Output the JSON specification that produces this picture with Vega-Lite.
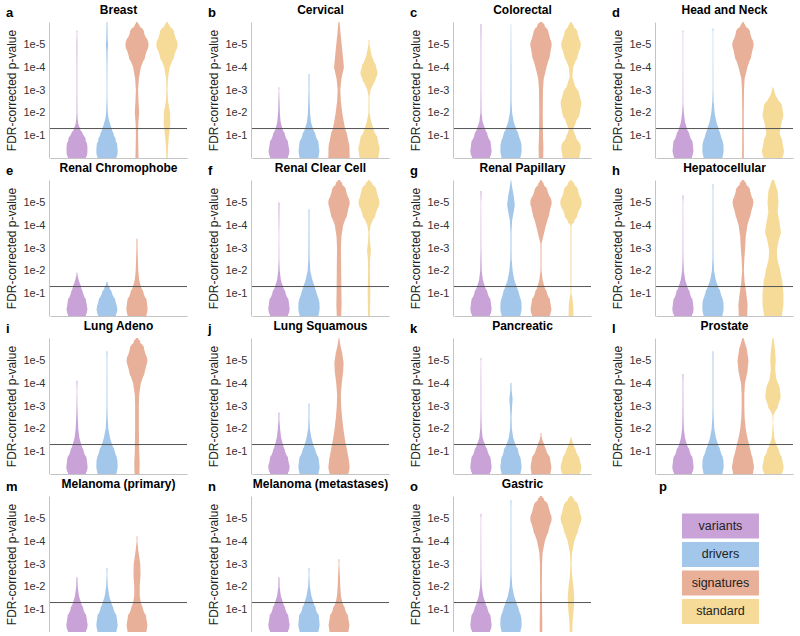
{
"$schema": "https://vega.github.io/schema/vega-lite/v6.json",
"padding": {"left": 5, "top": 4, "right": 0, "bottom": 0},
"columns": 4,
"spacing": {"row": 4, "column": 19},
"data": {"values": [
{"cancer":"Breast","set":"variants","y":0,"dens":0.8},{"cancer":"Breast","set":"variants","y":0.25,"dens":0.95},{"cancer":"Breast","set":"variants","y":0.5,"dens":0.95},{"cancer":"Breast","set":"variants","y":0.75,"dens":0.8},{"cancer":"Breast","set":"variants","y":1,"dens":0.55},{"cancer":"Breast","set":"variants","y":1.25,"dens":0.3},{"cancer":"Breast","set":"variants","y":1.5,"dens":0.12},{"cancer":"Breast","set":"variants","y":1.75,"dens":0.06},{"cancer":"Breast","set":"variants","y":2,"dens":0.04},{"cancer":"Breast","set":"variants","y":3,"dens":0.03},{"cancer":"Breast","set":"variants","y":4,"dens":0.03},{"cancer":"Breast","set":"variants","y":5,"dens":0.04},{"cancer":"Breast","set":"variants","y":5.5,"dens":0.02},{"cancer":"Breast","set":"variants","y":5.6,"dens":0},
{"cancer":"Breast","set":"drivers","y":0,"dens":0.85},{"cancer":"Breast","set":"drivers","y":0.25,"dens":0.97},{"cancer":"Breast","set":"drivers","y":0.5,"dens":0.95},{"cancer":"Breast","set":"drivers","y":0.75,"dens":0.8},{"cancer":"Breast","set":"drivers","y":1,"dens":0.62},{"cancer":"Breast","set":"drivers","y":1.25,"dens":0.45},{"cancer":"Breast","set":"drivers","y":1.5,"dens":0.28},{"cancer":"Breast","set":"drivers","y":1.75,"dens":0.14},{"cancer":"Breast","set":"drivers","y":2,"dens":0.08},{"cancer":"Breast","set":"drivers","y":2.5,"dens":0.04},{"cancer":"Breast","set":"drivers","y":3,"dens":0.03},{"cancer":"Breast","set":"drivers","y":4,"dens":0.04},{"cancer":"Breast","set":"drivers","y":4.7,"dens":0.06},{"cancer":"Breast","set":"drivers","y":5,"dens":0.1},{"cancer":"Breast","set":"drivers","y":5.3,"dens":0.06},{"cancer":"Breast","set":"drivers","y":6,"dens":0.04},
{"cancer":"Breast","set":"signatures","y":0,"dens":0.14},{"cancer":"Breast","set":"signatures","y":0.5,"dens":0.12},{"cancer":"Breast","set":"signatures","y":1,"dens":0.1},{"cancer":"Breast","set":"signatures","y":1.5,"dens":0.12},{"cancer":"Breast","set":"signatures","y":2,"dens":0.2},{"cancer":"Breast","set":"signatures","y":2.5,"dens":0.14},{"cancer":"Breast","set":"signatures","y":3,"dens":0.1},{"cancer":"Breast","set":"signatures","y":3.5,"dens":0.17},{"cancer":"Breast","set":"signatures","y":4,"dens":0.35},{"cancer":"Breast","set":"signatures","y":4.5,"dens":0.75},{"cancer":"Breast","set":"signatures","y":5,"dens":1.05},{"cancer":"Breast","set":"signatures","y":5.5,"dens":0.65},{"cancer":"Breast","set":"signatures","y":5.8,"dens":0.25},{"cancer":"Breast","set":"signatures","y":6,"dens":0.05},
{"cancer":"Breast","set":"standard","y":0,"dens":0.06},{"cancer":"Breast","set":"standard","y":0.5,"dens":0.1},{"cancer":"Breast","set":"standard","y":1,"dens":0.18},{"cancer":"Breast","set":"standard","y":1.5,"dens":0.3},{"cancer":"Breast","set":"standard","y":2,"dens":0.28},{"cancer":"Breast","set":"standard","y":2.5,"dens":0.1},{"cancer":"Breast","set":"standard","y":3,"dens":0.05},{"cancer":"Breast","set":"standard","y":3.5,"dens":0.08},{"cancer":"Breast","set":"standard","y":4,"dens":0.25},{"cancer":"Breast","set":"standard","y":4.5,"dens":0.65},{"cancer":"Breast","set":"standard","y":5,"dens":0.97},{"cancer":"Breast","set":"standard","y":5.5,"dens":0.65},{"cancer":"Breast","set":"standard","y":5.8,"dens":0.25},{"cancer":"Breast","set":"standard","y":6,"dens":0.05},
{"cancer":"Cervical","set":"variants","y":0,"dens":0.8},{"cancer":"Cervical","set":"variants","y":0.3,"dens":0.95},{"cancer":"Cervical","set":"variants","y":0.6,"dens":0.85},{"cancer":"Cervical","set":"variants","y":1,"dens":0.55},{"cancer":"Cervical","set":"variants","y":1.3,"dens":0.3},{"cancer":"Cervical","set":"variants","y":1.6,"dens":0.15},{"cancer":"Cervical","set":"variants","y":2,"dens":0.08},{"cancer":"Cervical","set":"variants","y":2.5,"dens":0.05},{"cancer":"Cervical","set":"variants","y":3,"dens":0.02},{"cancer":"Cervical","set":"variants","y":3.1,"dens":0},
{"cancer":"Cervical","set":"drivers","y":0,"dens":0.85},{"cancer":"Cervical","set":"drivers","y":0.3,"dens":0.95},{"cancer":"Cervical","set":"drivers","y":0.6,"dens":0.88},{"cancer":"Cervical","set":"drivers","y":1,"dens":0.6},{"cancer":"Cervical","set":"drivers","y":1.3,"dens":0.35},{"cancer":"Cervical","set":"drivers","y":1.6,"dens":0.18},{"cancer":"Cervical","set":"drivers","y":2,"dens":0.1},{"cancer":"Cervical","set":"drivers","y":2.5,"dens":0.06},{"cancer":"Cervical","set":"drivers","y":3,"dens":0.04},{"cancer":"Cervical","set":"drivers","y":3.7,"dens":0},
{"cancer":"Cervical","set":"signatures","y":0,"dens":0.97},{"cancer":"Cervical","set":"signatures","y":0.5,"dens":0.95},{"cancer":"Cervical","set":"signatures","y":1,"dens":0.75},{"cancer":"Cervical","set":"signatures","y":1.3,"dens":0.55},{"cancer":"Cervical","set":"signatures","y":1.7,"dens":0.4},{"cancer":"Cervical","set":"signatures","y":2,"dens":0.3},{"cancer":"Cervical","set":"signatures","y":2.5,"dens":0.17},{"cancer":"Cervical","set":"signatures","y":3,"dens":0.12},{"cancer":"Cervical","set":"signatures","y":3.5,"dens":0.22},{"cancer":"Cervical","set":"signatures","y":4,"dens":0.45},{"cancer":"Cervical","set":"signatures","y":4.5,"dens":0.35},{"cancer":"Cervical","set":"signatures","y":5,"dens":0.25},{"cancer":"Cervical","set":"signatures","y":5.5,"dens":0.14},{"cancer":"Cervical","set":"signatures","y":6,"dens":0.05},
{"cancer":"Cervical","set":"standard","y":0,"dens":0.85},{"cancer":"Cervical","set":"standard","y":0.4,"dens":0.97},{"cancer":"Cervical","set":"standard","y":0.8,"dens":0.8},{"cancer":"Cervical","set":"standard","y":1.2,"dens":0.45},{"cancer":"Cervical","set":"standard","y":1.6,"dens":0.2},{"cancer":"Cervical","set":"standard","y":2,"dens":0.05},{"cancer":"Cervical","set":"standard","y":2.2,"dens":0},{"cancer":"Cervical","set":"standard","y":2.5,"dens":0},{"cancer":"Cervical","set":"standard","y":2.7,"dens":0.04},{"cancer":"Cervical","set":"standard","y":3,"dens":0.15},{"cancer":"Cervical","set":"standard","y":3.5,"dens":0.6},{"cancer":"Cervical","set":"standard","y":3.75,"dens":0.78},{"cancer":"Cervical","set":"standard","y":4,"dens":0.65},{"cancer":"Cervical","set":"standard","y":4.5,"dens":0.25},{"cancer":"Cervical","set":"standard","y":5,"dens":0.05},{"cancer":"Cervical","set":"standard","y":5.2,"dens":0},
{"cancer":"Colorectal","set":"variants","y":0,"dens":0.8},{"cancer":"Colorectal","set":"variants","y":0.3,"dens":0.97},{"cancer":"Colorectal","set":"variants","y":0.6,"dens":0.9},{"cancer":"Colorectal","set":"variants","y":1,"dens":0.6},{"cancer":"Colorectal","set":"variants","y":1.3,"dens":0.35},{"cancer":"Colorectal","set":"variants","y":1.6,"dens":0.15},{"cancer":"Colorectal","set":"variants","y":2,"dens":0.05},{"cancer":"Colorectal","set":"variants","y":3,"dens":0.03},{"cancer":"Colorectal","set":"variants","y":5,"dens":0.03},{"cancer":"Colorectal","set":"variants","y":5.9,"dens":0},
{"cancer":"Colorectal","set":"drivers","y":0,"dens":0.85},{"cancer":"Colorectal","set":"drivers","y":0.3,"dens":0.97},{"cancer":"Colorectal","set":"drivers","y":0.6,"dens":0.95},{"cancer":"Colorectal","set":"drivers","y":1,"dens":0.7},{"cancer":"Colorectal","set":"drivers","y":1.3,"dens":0.45},{"cancer":"Colorectal","set":"drivers","y":1.6,"dens":0.25},{"cancer":"Colorectal","set":"drivers","y":2,"dens":0.1},{"cancer":"Colorectal","set":"drivers","y":2.5,"dens":0.05},{"cancer":"Colorectal","set":"drivers","y":4,"dens":0.04},{"cancer":"Colorectal","set":"drivers","y":5.9,"dens":0.02},
{"cancer":"Colorectal","set":"signatures","y":0,"dens":0.2},{"cancer":"Colorectal","set":"signatures","y":0.5,"dens":0.22},{"cancer":"Colorectal","set":"signatures","y":1,"dens":0.18},{"cancer":"Colorectal","set":"signatures","y":2,"dens":0.16},{"cancer":"Colorectal","set":"signatures","y":3,"dens":0.18},{"cancer":"Colorectal","set":"signatures","y":3.5,"dens":0.25},{"cancer":"Colorectal","set":"signatures","y":4,"dens":0.5},{"cancer":"Colorectal","set":"signatures","y":4.5,"dens":0.8},{"cancer":"Colorectal","set":"signatures","y":5,"dens":0.97},{"cancer":"Colorectal","set":"signatures","y":5.5,"dens":0.7},{"cancer":"Colorectal","set":"signatures","y":5.8,"dens":0.35},{"cancer":"Colorectal","set":"signatures","y":6,"dens":0.1},
{"cancer":"Colorectal","set":"standard","y":0,"dens":0.75},{"cancer":"Colorectal","set":"standard","y":0.45,"dens":0.9},{"cancer":"Colorectal","set":"standard","y":0.9,"dens":0.45},{"cancer":"Colorectal","set":"standard","y":1.25,"dens":0.2},{"cancer":"Colorectal","set":"standard","y":1.6,"dens":0.45},{"cancer":"Colorectal","set":"standard","y":2,"dens":0.8},{"cancer":"Colorectal","set":"standard","y":2.4,"dens":0.95},{"cancer":"Colorectal","set":"standard","y":2.8,"dens":0.75},{"cancer":"Colorectal","set":"standard","y":3.2,"dens":0.35},{"cancer":"Colorectal","set":"standard","y":3.6,"dens":0.12},{"cancer":"Colorectal","set":"standard","y":4,"dens":0.2},{"cancer":"Colorectal","set":"standard","y":4.5,"dens":0.6},{"cancer":"Colorectal","set":"standard","y":5,"dens":0.9},{"cancer":"Colorectal","set":"standard","y":5.5,"dens":0.6},{"cancer":"Colorectal","set":"standard","y":5.8,"dens":0.25},{"cancer":"Colorectal","set":"standard","y":6,"dens":0.05},
{"cancer":"Head and Neck","set":"variants","y":0,"dens":0.8},{"cancer":"Head and Neck","set":"variants","y":0.3,"dens":0.95},{"cancer":"Head and Neck","set":"variants","y":0.6,"dens":0.9},{"cancer":"Head and Neck","set":"variants","y":1,"dens":0.6},{"cancer":"Head and Neck","set":"variants","y":1.3,"dens":0.35},{"cancer":"Head and Neck","set":"variants","y":1.6,"dens":0.18},{"cancer":"Head and Neck","set":"variants","y":2,"dens":0.08},{"cancer":"Head and Neck","set":"variants","y":2.4,"dens":0.03},{"cancer":"Head and Neck","set":"variants","y":4,"dens":0.02},{"cancer":"Head and Neck","set":"variants","y":5.5,"dens":0.02},{"cancer":"Head and Neck","set":"variants","y":5.6,"dens":0},
{"cancer":"Head and Neck","set":"drivers","y":0,"dens":0.85},{"cancer":"Head and Neck","set":"drivers","y":0.3,"dens":0.97},{"cancer":"Head and Neck","set":"drivers","y":0.6,"dens":0.95},{"cancer":"Head and Neck","set":"drivers","y":1,"dens":0.7},{"cancer":"Head and Neck","set":"drivers","y":1.3,"dens":0.5},{"cancer":"Head and Neck","set":"drivers","y":1.6,"dens":0.3},{"cancer":"Head and Neck","set":"drivers","y":2,"dens":0.15},{"cancer":"Head and Neck","set":"drivers","y":2.5,"dens":0.06},{"cancer":"Head and Neck","set":"drivers","y":3,"dens":0.03},{"cancer":"Head and Neck","set":"drivers","y":5.5,"dens":0.02},{"cancer":"Head and Neck","set":"drivers","y":5.7,"dens":0},
{"cancer":"Head and Neck","set":"signatures","y":0,"dens":0.08},{"cancer":"Head and Neck","set":"signatures","y":1,"dens":0.07},{"cancer":"Head and Neck","set":"signatures","y":2,"dens":0.07},{"cancer":"Head and Neck","set":"signatures","y":3,"dens":0.09},{"cancer":"Head and Neck","set":"signatures","y":3.5,"dens":0.15},{"cancer":"Head and Neck","set":"signatures","y":4,"dens":0.4},{"cancer":"Head and Neck","set":"signatures","y":4.5,"dens":0.75},{"cancer":"Head and Neck","set":"signatures","y":5,"dens":0.97},{"cancer":"Head and Neck","set":"signatures","y":5.5,"dens":0.65},{"cancer":"Head and Neck","set":"signatures","y":5.8,"dens":0.25},{"cancer":"Head and Neck","set":"signatures","y":6,"dens":0.05},
{"cancer":"Head and Neck","set":"standard","y":0,"dens":0.85},{"cancer":"Head and Neck","set":"standard","y":0.3,"dens":1},{"cancer":"Head and Neck","set":"standard","y":0.7,"dens":0.85},{"cancer":"Head and Neck","set":"standard","y":1.1,"dens":0.6},{"cancer":"Head and Neck","set":"standard","y":1.5,"dens":0.75},{"cancer":"Head and Neck","set":"standard","y":1.9,"dens":0.95},{"cancer":"Head and Neck","set":"standard","y":2.2,"dens":0.85},{"cancer":"Head and Neck","set":"standard","y":2.5,"dens":0.5},{"cancer":"Head and Neck","set":"standard","y":2.8,"dens":0.2},{"cancer":"Head and Neck","set":"standard","y":3.1,"dens":0},
{"cancer":"Renal Chromophobe","set":"variants","y":0,"dens":0.8},{"cancer":"Renal Chromophobe","set":"variants","y":0.3,"dens":0.95},{"cancer":"Renal Chromophobe","set":"variants","y":0.6,"dens":0.85},{"cancer":"Renal Chromophobe","set":"variants","y":1,"dens":0.55},{"cancer":"Renal Chromophobe","set":"variants","y":1.3,"dens":0.35},{"cancer":"Renal Chromophobe","set":"variants","y":1.6,"dens":0.15},{"cancer":"Renal Chromophobe","set":"variants","y":1.8,"dens":0.05},{"cancer":"Renal Chromophobe","set":"variants","y":1.9,"dens":0},
{"cancer":"Renal Chromophobe","set":"drivers","y":0,"dens":0.8},{"cancer":"Renal Chromophobe","set":"drivers","y":0.3,"dens":0.95},{"cancer":"Renal Chromophobe","set":"drivers","y":0.6,"dens":0.8},{"cancer":"Renal Chromophobe","set":"drivers","y":1,"dens":0.45},{"cancer":"Renal Chromophobe","set":"drivers","y":1.2,"dens":0.25},{"cancer":"Renal Chromophobe","set":"drivers","y":1.4,"dens":0.08},{"cancer":"Renal Chromophobe","set":"drivers","y":1.5,"dens":0},
{"cancer":"Renal Chromophobe","set":"signatures","y":0,"dens":0.85},{"cancer":"Renal Chromophobe","set":"signatures","y":0.3,"dens":0.97},{"cancer":"Renal Chromophobe","set":"signatures","y":0.6,"dens":0.9},{"cancer":"Renal Chromophobe","set":"signatures","y":1,"dens":0.6},{"cancer":"Renal Chromophobe","set":"signatures","y":1.3,"dens":0.35},{"cancer":"Renal Chromophobe","set":"signatures","y":1.6,"dens":0.2},{"cancer":"Renal Chromophobe","set":"signatures","y":2,"dens":0.12},{"cancer":"Renal Chromophobe","set":"signatures","y":2.5,"dens":0.08},{"cancer":"Renal Chromophobe","set":"signatures","y":3,"dens":0.05},{"cancer":"Renal Chromophobe","set":"signatures","y":3.4,"dens":0},
{"cancer":"Renal Clear Cell","set":"variants","y":0,"dens":0.8},{"cancer":"Renal Clear Cell","set":"variants","y":0.3,"dens":0.97},{"cancer":"Renal Clear Cell","set":"variants","y":0.6,"dens":0.9},{"cancer":"Renal Clear Cell","set":"variants","y":1,"dens":0.6},{"cancer":"Renal Clear Cell","set":"variants","y":1.3,"dens":0.35},{"cancer":"Renal Clear Cell","set":"variants","y":1.6,"dens":0.17},{"cancer":"Renal Clear Cell","set":"variants","y":2,"dens":0.07},{"cancer":"Renal Clear Cell","set":"variants","y":2.5,"dens":0.03},{"cancer":"Renal Clear Cell","set":"variants","y":3.5,"dens":0.02},{"cancer":"Renal Clear Cell","set":"variants","y":4,"dens":0.03},{"cancer":"Renal Clear Cell","set":"variants","y":5,"dens":0},
{"cancer":"Renal Clear Cell","set":"drivers","y":0,"dens":0.85},{"cancer":"Renal Clear Cell","set":"drivers","y":0.3,"dens":0.97},{"cancer":"Renal Clear Cell","set":"drivers","y":0.6,"dens":0.95},{"cancer":"Renal Clear Cell","set":"drivers","y":1,"dens":0.7},{"cancer":"Renal Clear Cell","set":"drivers","y":1.3,"dens":0.5},{"cancer":"Renal Clear Cell","set":"drivers","y":1.6,"dens":0.3},{"cancer":"Renal Clear Cell","set":"drivers","y":2,"dens":0.12},{"cancer":"Renal Clear Cell","set":"drivers","y":2.5,"dens":0.06},{"cancer":"Renal Clear Cell","set":"drivers","y":3,"dens":0.05},{"cancer":"Renal Clear Cell","set":"drivers","y":4,"dens":0.04},{"cancer":"Renal Clear Cell","set":"drivers","y":4.7,"dens":0},
{"cancer":"Renal Clear Cell","set":"signatures","y":0,"dens":0.2},{"cancer":"Renal Clear Cell","set":"signatures","y":0.5,"dens":0.24},{"cancer":"Renal Clear Cell","set":"signatures","y":1,"dens":0.22},{"cancer":"Renal Clear Cell","set":"signatures","y":2,"dens":0.2},{"cancer":"Renal Clear Cell","set":"signatures","y":3,"dens":0.18},{"cancer":"Renal Clear Cell","set":"signatures","y":3.5,"dens":0.22},{"cancer":"Renal Clear Cell","set":"signatures","y":4,"dens":0.38},{"cancer":"Renal Clear Cell","set":"signatures","y":4.5,"dens":0.75},{"cancer":"Renal Clear Cell","set":"signatures","y":5,"dens":0.97},{"cancer":"Renal Clear Cell","set":"signatures","y":5.5,"dens":0.65},{"cancer":"Renal Clear Cell","set":"signatures","y":5.8,"dens":0.3},{"cancer":"Renal Clear Cell","set":"signatures","y":6,"dens":0.08},
{"cancer":"Renal Clear Cell","set":"standard","y":0,"dens":0.08},{"cancer":"Renal Clear Cell","set":"standard","y":0.5,"dens":0.1},{"cancer":"Renal Clear Cell","set":"standard","y":1,"dens":0.12},{"cancer":"Renal Clear Cell","set":"standard","y":1.5,"dens":0.1},{"cancer":"Renal Clear Cell","set":"standard","y":2,"dens":0.08},{"cancer":"Renal Clear Cell","set":"standard","y":2.5,"dens":0.1},{"cancer":"Renal Clear Cell","set":"standard","y":2.9,"dens":0.18},{"cancer":"Renal Clear Cell","set":"standard","y":3.3,"dens":0.08},{"cancer":"Renal Clear Cell","set":"standard","y":3.7,"dens":0.05},{"cancer":"Renal Clear Cell","set":"standard","y":4,"dens":0.15},{"cancer":"Renal Clear Cell","set":"standard","y":4.5,"dens":0.6},{"cancer":"Renal Clear Cell","set":"standard","y":5,"dens":0.95},{"cancer":"Renal Clear Cell","set":"standard","y":5.5,"dens":0.7},{"cancer":"Renal Clear Cell","set":"standard","y":5.8,"dens":0.3},{"cancer":"Renal Clear Cell","set":"standard","y":6,"dens":0.05},
{"cancer":"Renal Papillary","set":"variants","y":0,"dens":0.8},{"cancer":"Renal Papillary","set":"variants","y":0.3,"dens":0.97},{"cancer":"Renal Papillary","set":"variants","y":0.6,"dens":0.9},{"cancer":"Renal Papillary","set":"variants","y":1,"dens":0.6},{"cancer":"Renal Papillary","set":"variants","y":1.3,"dens":0.35},{"cancer":"Renal Papillary","set":"variants","y":1.6,"dens":0.17},{"cancer":"Renal Papillary","set":"variants","y":2,"dens":0.07},{"cancer":"Renal Papillary","set":"variants","y":3,"dens":0.03},{"cancer":"Renal Papillary","set":"variants","y":5,"dens":0.02},{"cancer":"Renal Papillary","set":"variants","y":5.5,"dens":0},
{"cancer":"Renal Papillary","set":"drivers","y":0,"dens":0.85},{"cancer":"Renal Papillary","set":"drivers","y":0.3,"dens":0.97},{"cancer":"Renal Papillary","set":"drivers","y":0.6,"dens":0.95},{"cancer":"Renal Papillary","set":"drivers","y":1,"dens":0.72},{"cancer":"Renal Papillary","set":"drivers","y":1.3,"dens":0.5},{"cancer":"Renal Papillary","set":"drivers","y":1.6,"dens":0.3},{"cancer":"Renal Papillary","set":"drivers","y":2,"dens":0.15},{"cancer":"Renal Papillary","set":"drivers","y":2.5,"dens":0.06},{"cancer":"Renal Papillary","set":"drivers","y":2.9,"dens":0},{"cancer":"Renal Papillary","set":"drivers","y":3.7,"dens":0},{"cancer":"Renal Papillary","set":"drivers","y":4.2,"dens":0.1},{"cancer":"Renal Papillary","set":"drivers","y":4.6,"dens":0.25},{"cancer":"Renal Papillary","set":"drivers","y":4.9,"dens":0.35},{"cancer":"Renal Papillary","set":"drivers","y":5.3,"dens":0.25},{"cancer":"Renal Papillary","set":"drivers","y":5.7,"dens":0.1},{"cancer":"Renal Papillary","set":"drivers","y":6,"dens":0.02},
{"cancer":"Renal Papillary","set":"signatures","y":0,"dens":0.8},{"cancer":"Renal Papillary","set":"signatures","y":0.3,"dens":0.95},{"cancer":"Renal Papillary","set":"signatures","y":0.6,"dens":0.85},{"cancer":"Renal Papillary","set":"signatures","y":1,"dens":0.55},{"cancer":"Renal Papillary","set":"signatures","y":1.3,"dens":0.3},{"cancer":"Renal Papillary","set":"signatures","y":1.6,"dens":0.15},{"cancer":"Renal Papillary","set":"signatures","y":2,"dens":0.05},{"cancer":"Renal Papillary","set":"signatures","y":2.2,"dens":0},{"cancer":"Renal Papillary","set":"signatures","y":3,"dens":0},{"cancer":"Renal Papillary","set":"signatures","y":3.2,"dens":0.05},{"cancer":"Renal Papillary","set":"signatures","y":3.5,"dens":0.2},{"cancer":"Renal Papillary","set":"signatures","y":4,"dens":0.45},{"cancer":"Renal Papillary","set":"signatures","y":4.5,"dens":0.75},{"cancer":"Renal Papillary","set":"signatures","y":5,"dens":0.97},{"cancer":"Renal Papillary","set":"signatures","y":5.5,"dens":0.6},{"cancer":"Renal Papillary","set":"signatures","y":5.8,"dens":0.25},{"cancer":"Renal Papillary","set":"signatures","y":6,"dens":0.05},
{"cancer":"Renal Papillary","set":"standard","y":0,"dens":0.22},{"cancer":"Renal Papillary","set":"standard","y":0.5,"dens":0.2},{"cancer":"Renal Papillary","set":"standard","y":0.8,"dens":0.12},{"cancer":"Renal Papillary","set":"standard","y":1,"dens":0.04},{"cancer":"Renal Papillary","set":"standard","y":1.1,"dens":0},{"cancer":"Renal Papillary","set":"standard","y":3.8,"dens":0},{"cancer":"Renal Papillary","set":"standard","y":4,"dens":0.05},{"cancer":"Renal Papillary","set":"standard","y":4.2,"dens":0.3},{"cancer":"Renal Papillary","set":"standard","y":4.5,"dens":0.6},{"cancer":"Renal Papillary","set":"standard","y":5,"dens":0.97},{"cancer":"Renal Papillary","set":"standard","y":5.5,"dens":0.65},{"cancer":"Renal Papillary","set":"standard","y":5.8,"dens":0.3},{"cancer":"Renal Papillary","set":"standard","y":6,"dens":0.05},
{"cancer":"Hepatocellular","set":"variants","y":0,"dens":0.8},{"cancer":"Hepatocellular","set":"variants","y":0.3,"dens":0.97},{"cancer":"Hepatocellular","set":"variants","y":0.6,"dens":0.9},{"cancer":"Hepatocellular","set":"variants","y":1,"dens":0.62},{"cancer":"Hepatocellular","set":"variants","y":1.3,"dens":0.38},{"cancer":"Hepatocellular","set":"variants","y":1.6,"dens":0.2},{"cancer":"Hepatocellular","set":"variants","y":2,"dens":0.08},{"cancer":"Hepatocellular","set":"variants","y":2.5,"dens":0.04},{"cancer":"Hepatocellular","set":"variants","y":3,"dens":0.03},{"cancer":"Hepatocellular","set":"variants","y":5,"dens":0.02},{"cancer":"Hepatocellular","set":"variants","y":5.3,"dens":0},
{"cancer":"Hepatocellular","set":"drivers","y":0,"dens":0.85},{"cancer":"Hepatocellular","set":"drivers","y":0.3,"dens":0.97},{"cancer":"Hepatocellular","set":"drivers","y":0.6,"dens":0.95},{"cancer":"Hepatocellular","set":"drivers","y":1,"dens":0.7},{"cancer":"Hepatocellular","set":"drivers","y":1.3,"dens":0.45},{"cancer":"Hepatocellular","set":"drivers","y":1.6,"dens":0.25},{"cancer":"Hepatocellular","set":"drivers","y":2,"dens":0.1},{"cancer":"Hepatocellular","set":"drivers","y":2.5,"dens":0.05},{"cancer":"Hepatocellular","set":"drivers","y":3,"dens":0.04},{"cancer":"Hepatocellular","set":"drivers","y":5.5,"dens":0.03},{"cancer":"Hepatocellular","set":"drivers","y":5.8,"dens":0},
{"cancer":"Hepatocellular","set":"signatures","y":0,"dens":0.38},{"cancer":"Hepatocellular","set":"signatures","y":0.5,"dens":0.42},{"cancer":"Hepatocellular","set":"signatures","y":1,"dens":0.3},{"cancer":"Hepatocellular","set":"signatures","y":1.5,"dens":0.15},{"cancer":"Hepatocellular","set":"signatures","y":2,"dens":0.08},{"cancer":"Hepatocellular","set":"signatures","y":2.5,"dens":0.12},{"cancer":"Hepatocellular","set":"signatures","y":3,"dens":0.2},{"cancer":"Hepatocellular","set":"signatures","y":3.5,"dens":0.25},{"cancer":"Hepatocellular","set":"signatures","y":4,"dens":0.4},{"cancer":"Hepatocellular","set":"signatures","y":4.5,"dens":0.7},{"cancer":"Hepatocellular","set":"signatures","y":5,"dens":0.95},{"cancer":"Hepatocellular","set":"signatures","y":5.5,"dens":0.65},{"cancer":"Hepatocellular","set":"signatures","y":5.8,"dens":0.3},{"cancer":"Hepatocellular","set":"signatures","y":6,"dens":0.08},
{"cancer":"Hepatocellular","set":"standard","y":0,"dens":0.8},{"cancer":"Hepatocellular","set":"standard","y":0.5,"dens":0.95},{"cancer":"Hepatocellular","set":"standard","y":1,"dens":0.95},{"cancer":"Hepatocellular","set":"standard","y":1.5,"dens":0.85},{"cancer":"Hepatocellular","set":"standard","y":2,"dens":0.65},{"cancer":"Hepatocellular","set":"standard","y":2.5,"dens":0.4},{"cancer":"Hepatocellular","set":"standard","y":2.9,"dens":0.35},{"cancer":"Hepatocellular","set":"standard","y":3.3,"dens":0.5},{"cancer":"Hepatocellular","set":"standard","y":3.7,"dens":0.72},{"cancer":"Hepatocellular","set":"standard","y":4.1,"dens":0.6},{"cancer":"Hepatocellular","set":"standard","y":4.6,"dens":0.42},{"cancer":"Hepatocellular","set":"standard","y":5,"dens":0.5},{"cancer":"Hepatocellular","set":"standard","y":5.5,"dens":0.42},{"cancer":"Hepatocellular","set":"standard","y":6,"dens":0.1},
{"cancer":"Lung Adeno","set":"variants","y":0,"dens":0.8},{"cancer":"Lung Adeno","set":"variants","y":0.3,"dens":0.97},{"cancer":"Lung Adeno","set":"variants","y":0.6,"dens":0.9},{"cancer":"Lung Adeno","set":"variants","y":1,"dens":0.6},{"cancer":"Lung Adeno","set":"variants","y":1.3,"dens":0.38},{"cancer":"Lung Adeno","set":"variants","y":1.6,"dens":0.22},{"cancer":"Lung Adeno","set":"variants","y":2,"dens":0.12},{"cancer":"Lung Adeno","set":"variants","y":2.5,"dens":0.07},{"cancer":"Lung Adeno","set":"variants","y":3,"dens":0.04},{"cancer":"Lung Adeno","set":"variants","y":3.7,"dens":0.02},{"cancer":"Lung Adeno","set":"variants","y":4.1,"dens":0},
{"cancer":"Lung Adeno","set":"drivers","y":0,"dens":0.85},{"cancer":"Lung Adeno","set":"drivers","y":0.3,"dens":0.97},{"cancer":"Lung Adeno","set":"drivers","y":0.6,"dens":0.95},{"cancer":"Lung Adeno","set":"drivers","y":1,"dens":0.7},{"cancer":"Lung Adeno","set":"drivers","y":1.3,"dens":0.45},{"cancer":"Lung Adeno","set":"drivers","y":1.6,"dens":0.28},{"cancer":"Lung Adeno","set":"drivers","y":2,"dens":0.12},{"cancer":"Lung Adeno","set":"drivers","y":2.5,"dens":0.06},{"cancer":"Lung Adeno","set":"drivers","y":3,"dens":0.04},{"cancer":"Lung Adeno","set":"drivers","y":5,"dens":0.03},{"cancer":"Lung Adeno","set":"drivers","y":5.4,"dens":0},
{"cancer":"Lung Adeno","set":"signatures","y":0,"dens":0.22},{"cancer":"Lung Adeno","set":"signatures","y":0.5,"dens":0.25},{"cancer":"Lung Adeno","set":"signatures","y":1,"dens":0.2},{"cancer":"Lung Adeno","set":"signatures","y":2,"dens":0.17},{"cancer":"Lung Adeno","set":"signatures","y":3,"dens":0.17},{"cancer":"Lung Adeno","set":"signatures","y":3.5,"dens":0.2},{"cancer":"Lung Adeno","set":"signatures","y":4,"dens":0.35},{"cancer":"Lung Adeno","set":"signatures","y":4.5,"dens":0.7},{"cancer":"Lung Adeno","set":"signatures","y":5,"dens":0.95},{"cancer":"Lung Adeno","set":"signatures","y":5.5,"dens":0.65},{"cancer":"Lung Adeno","set":"signatures","y":5.8,"dens":0.3},{"cancer":"Lung Adeno","set":"signatures","y":6,"dens":0.08},
{"cancer":"Lung Squamous","set":"variants","y":0,"dens":0.8},{"cancer":"Lung Squamous","set":"variants","y":0.3,"dens":0.97},{"cancer":"Lung Squamous","set":"variants","y":0.6,"dens":0.85},{"cancer":"Lung Squamous","set":"variants","y":1,"dens":0.55},{"cancer":"Lung Squamous","set":"variants","y":1.3,"dens":0.35},{"cancer":"Lung Squamous","set":"variants","y":1.6,"dens":0.2},{"cancer":"Lung Squamous","set":"variants","y":2,"dens":0.1},{"cancer":"Lung Squamous","set":"variants","y":2.4,"dens":0.04},{"cancer":"Lung Squamous","set":"variants","y":2.7,"dens":0},
{"cancer":"Lung Squamous","set":"drivers","y":0,"dens":0.85},{"cancer":"Lung Squamous","set":"drivers","y":0.3,"dens":0.97},{"cancer":"Lung Squamous","set":"drivers","y":0.6,"dens":0.9},{"cancer":"Lung Squamous","set":"drivers","y":1,"dens":0.6},{"cancer":"Lung Squamous","set":"drivers","y":1.3,"dens":0.38},{"cancer":"Lung Squamous","set":"drivers","y":1.6,"dens":0.22},{"cancer":"Lung Squamous","set":"drivers","y":2,"dens":0.08},{"cancer":"Lung Squamous","set":"drivers","y":2.5,"dens":0.04},{"cancer":"Lung Squamous","set":"drivers","y":3.1,"dens":0},
{"cancer":"Lung Squamous","set":"signatures","y":0,"dens":0.85},{"cancer":"Lung Squamous","set":"signatures","y":0.3,"dens":0.97},{"cancer":"Lung Squamous","set":"signatures","y":0.6,"dens":0.9},{"cancer":"Lung Squamous","set":"signatures","y":1,"dens":0.75},{"cancer":"Lung Squamous","set":"signatures","y":1.5,"dens":0.55},{"cancer":"Lung Squamous","set":"signatures","y":2,"dens":0.4},{"cancer":"Lung Squamous","set":"signatures","y":2.5,"dens":0.28},{"cancer":"Lung Squamous","set":"signatures","y":3,"dens":0.2},{"cancer":"Lung Squamous","set":"signatures","y":3.5,"dens":0.17},{"cancer":"Lung Squamous","set":"signatures","y":4,"dens":0.25},{"cancer":"Lung Squamous","set":"signatures","y":4.5,"dens":0.38},{"cancer":"Lung Squamous","set":"signatures","y":4.9,"dens":0.42},{"cancer":"Lung Squamous","set":"signatures","y":5.3,"dens":0.3},{"cancer":"Lung Squamous","set":"signatures","y":5.7,"dens":0.12},{"cancer":"Lung Squamous","set":"signatures","y":6,"dens":0.03},
{"cancer":"Pancreatic","set":"variants","y":0,"dens":0.8},{"cancer":"Pancreatic","set":"variants","y":0.3,"dens":0.97},{"cancer":"Pancreatic","set":"variants","y":0.6,"dens":0.9},{"cancer":"Pancreatic","set":"variants","y":1,"dens":0.6},{"cancer":"Pancreatic","set":"variants","y":1.3,"dens":0.35},{"cancer":"Pancreatic","set":"variants","y":1.6,"dens":0.15},{"cancer":"Pancreatic","set":"variants","y":2,"dens":0.07},{"cancer":"Pancreatic","set":"variants","y":2.5,"dens":0.04},{"cancer":"Pancreatic","set":"variants","y":3,"dens":0.03},{"cancer":"Pancreatic","set":"variants","y":4,"dens":0.03},{"cancer":"Pancreatic","set":"variants","y":5,"dens":0.02},{"cancer":"Pancreatic","set":"variants","y":5.1,"dens":0},
{"cancer":"Pancreatic","set":"drivers","y":0,"dens":0.85},{"cancer":"Pancreatic","set":"drivers","y":0.3,"dens":0.97},{"cancer":"Pancreatic","set":"drivers","y":0.6,"dens":0.9},{"cancer":"Pancreatic","set":"drivers","y":1,"dens":0.65},{"cancer":"Pancreatic","set":"drivers","y":1.3,"dens":0.4},{"cancer":"Pancreatic","set":"drivers","y":1.6,"dens":0.2},{"cancer":"Pancreatic","set":"drivers","y":2,"dens":0.08},{"cancer":"Pancreatic","set":"drivers","y":2.5,"dens":0.05},{"cancer":"Pancreatic","set":"drivers","y":3,"dens":0.1},{"cancer":"Pancreatic","set":"drivers","y":3.3,"dens":0.15},{"cancer":"Pancreatic","set":"drivers","y":3.7,"dens":0.06},{"cancer":"Pancreatic","set":"drivers","y":4,"dens":0},
{"cancer":"Pancreatic","set":"signatures","y":0,"dens":0.85},{"cancer":"Pancreatic","set":"signatures","y":0.3,"dens":0.95},{"cancer":"Pancreatic","set":"signatures","y":0.6,"dens":0.85},{"cancer":"Pancreatic","set":"signatures","y":1,"dens":0.5},{"cancer":"Pancreatic","set":"signatures","y":1.3,"dens":0.28},{"cancer":"Pancreatic","set":"signatures","y":1.5,"dens":0.12},{"cancer":"Pancreatic","set":"signatures","y":1.7,"dens":0.04},{"cancer":"Pancreatic","set":"signatures","y":1.8,"dens":0},
{"cancer":"Pancreatic","set":"standard","y":0,"dens":0.8},{"cancer":"Pancreatic","set":"standard","y":0.3,"dens":0.95},{"cancer":"Pancreatic","set":"standard","y":0.6,"dens":0.8},{"cancer":"Pancreatic","set":"standard","y":1,"dens":0.45},{"cancer":"Pancreatic","set":"standard","y":1.3,"dens":0.22},{"cancer":"Pancreatic","set":"standard","y":1.5,"dens":0.08},{"cancer":"Pancreatic","set":"standard","y":1.6,"dens":0},
{"cancer":"Prostate","set":"variants","y":0,"dens":0.8},{"cancer":"Prostate","set":"variants","y":0.3,"dens":0.97},{"cancer":"Prostate","set":"variants","y":0.6,"dens":0.9},{"cancer":"Prostate","set":"variants","y":1,"dens":0.6},{"cancer":"Prostate","set":"variants","y":1.3,"dens":0.35},{"cancer":"Prostate","set":"variants","y":1.6,"dens":0.18},{"cancer":"Prostate","set":"variants","y":2,"dens":0.08},{"cancer":"Prostate","set":"variants","y":2.5,"dens":0.05},{"cancer":"Prostate","set":"variants","y":3,"dens":0.04},{"cancer":"Prostate","set":"variants","y":4,"dens":0.03},{"cancer":"Prostate","set":"variants","y":4.4,"dens":0},
{"cancer":"Prostate","set":"drivers","y":0,"dens":0.85},{"cancer":"Prostate","set":"drivers","y":0.3,"dens":0.97},{"cancer":"Prostate","set":"drivers","y":0.6,"dens":0.95},{"cancer":"Prostate","set":"drivers","y":1,"dens":0.68},{"cancer":"Prostate","set":"drivers","y":1.3,"dens":0.45},{"cancer":"Prostate","set":"drivers","y":1.6,"dens":0.27},{"cancer":"Prostate","set":"drivers","y":2,"dens":0.12},{"cancer":"Prostate","set":"drivers","y":2.5,"dens":0.06},{"cancer":"Prostate","set":"drivers","y":3,"dens":0.04},{"cancer":"Prostate","set":"drivers","y":5,"dens":0.04},{"cancer":"Prostate","set":"drivers","y":5.4,"dens":0},
{"cancer":"Prostate","set":"signatures","y":0,"dens":0.9},{"cancer":"Prostate","set":"signatures","y":0.3,"dens":1},{"cancer":"Prostate","set":"signatures","y":0.6,"dens":0.9},{"cancer":"Prostate","set":"signatures","y":1,"dens":0.7},{"cancer":"Prostate","set":"signatures","y":1.3,"dens":0.55},{"cancer":"Prostate","set":"signatures","y":1.6,"dens":0.4},{"cancer":"Prostate","set":"signatures","y":2,"dens":0.25},{"cancer":"Prostate","set":"signatures","y":2.5,"dens":0.15},{"cancer":"Prostate","set":"signatures","y":3,"dens":0.12},{"cancer":"Prostate","set":"signatures","y":3.5,"dens":0.12},{"cancer":"Prostate","set":"signatures","y":4,"dens":0.18},{"cancer":"Prostate","set":"signatures","y":4.5,"dens":0.4},{"cancer":"Prostate","set":"signatures","y":5,"dens":0.5},{"cancer":"Prostate","set":"signatures","y":5.5,"dens":0.35},{"cancer":"Prostate","set":"signatures","y":6,"dens":0.05},
{"cancer":"Prostate","set":"standard","y":0,"dens":0.8},{"cancer":"Prostate","set":"standard","y":0.3,"dens":0.97},{"cancer":"Prostate","set":"standard","y":0.6,"dens":0.85},{"cancer":"Prostate","set":"standard","y":1,"dens":0.55},{"cancer":"Prostate","set":"standard","y":1.3,"dens":0.3},{"cancer":"Prostate","set":"standard","y":1.6,"dens":0.12},{"cancer":"Prostate","set":"standard","y":2,"dens":0.05},{"cancer":"Prostate","set":"standard","y":2.3,"dens":0.02},{"cancer":"Prostate","set":"standard","y":2.6,"dens":0.05},{"cancer":"Prostate","set":"standard","y":3,"dens":0.45},{"cancer":"Prostate","set":"standard","y":3.4,"dens":0.7},{"cancer":"Prostate","set":"standard","y":3.8,"dens":0.6},{"cancer":"Prostate","set":"standard","y":4.2,"dens":0.3},{"cancer":"Prostate","set":"standard","y":4.6,"dens":0.2},{"cancer":"Prostate","set":"standard","y":5,"dens":0.25},{"cancer":"Prostate","set":"standard","y":5.5,"dens":0.18},{"cancer":"Prostate","set":"standard","y":6,"dens":0.05},
{"cancer":"Melanoma (primary)","set":"variants","y":0,"dens":0.8},{"cancer":"Melanoma (primary)","set":"variants","y":0.3,"dens":0.97},{"cancer":"Melanoma (primary)","set":"variants","y":0.6,"dens":0.88},{"cancer":"Melanoma (primary)","set":"variants","y":1,"dens":0.58},{"cancer":"Melanoma (primary)","set":"variants","y":1.3,"dens":0.35},{"cancer":"Melanoma (primary)","set":"variants","y":1.6,"dens":0.18},{"cancer":"Melanoma (primary)","set":"variants","y":2,"dens":0.07},{"cancer":"Melanoma (primary)","set":"variants","y":2.4,"dens":0},
{"cancer":"Melanoma (primary)","set":"drivers","y":0,"dens":0.85},{"cancer":"Melanoma (primary)","set":"drivers","y":0.3,"dens":0.97},{"cancer":"Melanoma (primary)","set":"drivers","y":0.6,"dens":0.9},{"cancer":"Melanoma (primary)","set":"drivers","y":1,"dens":0.6},{"cancer":"Melanoma (primary)","set":"drivers","y":1.3,"dens":0.38},{"cancer":"Melanoma (primary)","set":"drivers","y":1.6,"dens":0.2},{"cancer":"Melanoma (primary)","set":"drivers","y":2,"dens":0.08},{"cancer":"Melanoma (primary)","set":"drivers","y":2.5,"dens":0.03},{"cancer":"Melanoma (primary)","set":"drivers","y":2.8,"dens":0},
{"cancer":"Melanoma (primary)","set":"signatures","y":0,"dens":0.85},{"cancer":"Melanoma (primary)","set":"signatures","y":0.3,"dens":0.95},{"cancer":"Melanoma (primary)","set":"signatures","y":0.6,"dens":0.85},{"cancer":"Melanoma (primary)","set":"signatures","y":1,"dens":0.55},{"cancer":"Melanoma (primary)","set":"signatures","y":1.3,"dens":0.35},{"cancer":"Melanoma (primary)","set":"signatures","y":1.6,"dens":0.25},{"cancer":"Melanoma (primary)","set":"signatures","y":2,"dens":0.25},{"cancer":"Melanoma (primary)","set":"signatures","y":2.5,"dens":0.32},{"cancer":"Melanoma (primary)","set":"signatures","y":3,"dens":0.3},{"cancer":"Melanoma (primary)","set":"signatures","y":3.5,"dens":0.15},{"cancer":"Melanoma (primary)","set":"signatures","y":4,"dens":0.03},{"cancer":"Melanoma (primary)","set":"signatures","y":4.2,"dens":0},
{"cancer":"Melanoma (metastases)","set":"variants","y":0,"dens":0.8},{"cancer":"Melanoma (metastases)","set":"variants","y":0.3,"dens":0.97},{"cancer":"Melanoma (metastases)","set":"variants","y":0.6,"dens":0.88},{"cancer":"Melanoma (metastases)","set":"variants","y":1,"dens":0.58},{"cancer":"Melanoma (metastases)","set":"variants","y":1.3,"dens":0.35},{"cancer":"Melanoma (metastases)","set":"variants","y":1.6,"dens":0.17},{"cancer":"Melanoma (metastases)","set":"variants","y":2,"dens":0.06},{"cancer":"Melanoma (metastases)","set":"variants","y":2.4,"dens":0},
{"cancer":"Melanoma (metastases)","set":"drivers","y":0,"dens":0.85},{"cancer":"Melanoma (metastases)","set":"drivers","y":0.3,"dens":0.97},{"cancer":"Melanoma (metastases)","set":"drivers","y":0.6,"dens":0.92},{"cancer":"Melanoma (metastases)","set":"drivers","y":1,"dens":0.62},{"cancer":"Melanoma (metastases)","set":"drivers","y":1.3,"dens":0.4},{"cancer":"Melanoma (metastases)","set":"drivers","y":1.6,"dens":0.22},{"cancer":"Melanoma (metastases)","set":"drivers","y":2,"dens":0.08},{"cancer":"Melanoma (metastases)","set":"drivers","y":2.5,"dens":0.03},{"cancer":"Melanoma (metastases)","set":"drivers","y":2.8,"dens":0},
{"cancer":"Melanoma (metastases)","set":"signatures","y":0,"dens":0.85},{"cancer":"Melanoma (metastases)","set":"signatures","y":0.3,"dens":0.95},{"cancer":"Melanoma (metastases)","set":"signatures","y":0.6,"dens":0.85},{"cancer":"Melanoma (metastases)","set":"signatures","y":1,"dens":0.55},{"cancer":"Melanoma (metastases)","set":"signatures","y":1.3,"dens":0.3},{"cancer":"Melanoma (metastases)","set":"signatures","y":1.6,"dens":0.18},{"cancer":"Melanoma (metastases)","set":"signatures","y":2,"dens":0.12},{"cancer":"Melanoma (metastases)","set":"signatures","y":2.5,"dens":0.08},{"cancer":"Melanoma (metastases)","set":"signatures","y":3,"dens":0.03},{"cancer":"Melanoma (metastases)","set":"signatures","y":3.2,"dens":0},
{"cancer":"Gastric","set":"variants","y":0,"dens":0.8},{"cancer":"Gastric","set":"variants","y":0.3,"dens":0.97},{"cancer":"Gastric","set":"variants","y":0.6,"dens":0.9},{"cancer":"Gastric","set":"variants","y":1,"dens":0.6},{"cancer":"Gastric","set":"variants","y":1.3,"dens":0.38},{"cancer":"Gastric","set":"variants","y":1.6,"dens":0.2},{"cancer":"Gastric","set":"variants","y":2,"dens":0.08},{"cancer":"Gastric","set":"variants","y":2.5,"dens":0.04},{"cancer":"Gastric","set":"variants","y":3,"dens":0.03},{"cancer":"Gastric","set":"variants","y":5,"dens":0.02},{"cancer":"Gastric","set":"variants","y":5.2,"dens":0},
{"cancer":"Gastric","set":"drivers","y":0,"dens":0.85},{"cancer":"Gastric","set":"drivers","y":0.3,"dens":0.97},{"cancer":"Gastric","set":"drivers","y":0.6,"dens":0.95},{"cancer":"Gastric","set":"drivers","y":1,"dens":0.7},{"cancer":"Gastric","set":"drivers","y":1.3,"dens":0.48},{"cancer":"Gastric","set":"drivers","y":1.6,"dens":0.28},{"cancer":"Gastric","set":"drivers","y":2,"dens":0.12},{"cancer":"Gastric","set":"drivers","y":2.5,"dens":0.05},{"cancer":"Gastric","set":"drivers","y":3,"dens":0.04},{"cancer":"Gastric","set":"drivers","y":5.5,"dens":0.03},{"cancer":"Gastric","set":"drivers","y":5.8,"dens":0},
{"cancer":"Gastric","set":"signatures","y":0,"dens":0.12},{"cancer":"Gastric","set":"signatures","y":0.5,"dens":0.12},{"cancer":"Gastric","set":"signatures","y":1,"dens":0.1},{"cancer":"Gastric","set":"signatures","y":2,"dens":0.08},{"cancer":"Gastric","set":"signatures","y":3,"dens":0.1},{"cancer":"Gastric","set":"signatures","y":3.5,"dens":0.15},{"cancer":"Gastric","set":"signatures","y":4,"dens":0.35},{"cancer":"Gastric","set":"signatures","y":4.5,"dens":0.7},{"cancer":"Gastric","set":"signatures","y":5,"dens":0.97},{"cancer":"Gastric","set":"signatures","y":5.5,"dens":0.7},{"cancer":"Gastric","set":"signatures","y":5.8,"dens":0.3},{"cancer":"Gastric","set":"signatures","y":6,"dens":0.08},
{"cancer":"Gastric","set":"standard","y":0,"dens":0.12},{"cancer":"Gastric","set":"standard","y":0.5,"dens":0.15},{"cancer":"Gastric","set":"standard","y":1,"dens":0.25},{"cancer":"Gastric","set":"standard","y":1.5,"dens":0.3},{"cancer":"Gastric","set":"standard","y":2,"dens":0.22},{"cancer":"Gastric","set":"standard","y":2.5,"dens":0.1},{"cancer":"Gastric","set":"standard","y":3,"dens":0.05},{"cancer":"Gastric","set":"standard","y":3.5,"dens":0.1},{"cancer":"Gastric","set":"standard","y":4,"dens":0.3},{"cancer":"Gastric","set":"standard","y":4.5,"dens":0.65},{"cancer":"Gastric","set":"standard","y":5,"dens":0.95},{"cancer":"Gastric","set":"standard","y":5.5,"dens":0.7},{"cancer":"Gastric","set":"standard","y":5.8,"dens":0.3},{"cancer":"Gastric","set":"standard","y":6,"dens":0.08}
]},
"concat": [
{"title":{"text":"a"},"transform":[{"filter":{"field":"cancer","equal":"Breast"}}],"facet":{"column":{"field":"cancer","type":"nominal","title":null}},"spec":{"width":137,"height":136,"layer":[
{"mark":{"type":"trail","clip":true},"encoding":{"x":{"field":"set","type":"nominal","title":null,"scale":{"type":"point","domain":["variants","drivers","signatures","standard"],"padding":0.783,"align":0.574}},"y":{"field":"y","type":"quantitative","title":"FDR-corrected p-value","scale":{"domain":[0,6],"nice":false},"axis":{"values":[1,2,3,4,5],"labelExpr":"'1e-' + datum.value","labelOverlap":false}},"size":{"field":"dens","type":"quantitative","scale":{"domain":[0,1],"range":[0,22]},"legend":null},"color":{"field":"set","type":"nominal","scale":{"domain":["variants","drivers","signatures","standard"],"range":["#c9a3d8","#a3c7ea","#e8b098","#f6db98"]},"legend":null},"order":{"field":"y","type":"quantitative"}}},
{"transform":[{"aggregate":[{"op":"count","as":"n"}],"groupby":["cancer"]}],"mark":{"type":"rule","color":"#555555"},"encoding":{"y":{"datum":1.3,"type":"quantitative","title":"FDR-corrected p-value","axis":{"values":[1,2,3,4,5],"labelExpr":"'1e-' + datum.value","labelOverlap":false}}}}]}},
{"title":{"text":"b"},"transform":[{"filter":{"field":"cancer","equal":"Cervical"}}],"facet":{"column":{"field":"cancer","type":"nominal","title":null}},"spec":{"width":137,"height":136,"layer":[
{"mark":{"type":"trail","clip":true},"encoding":{"x":{"field":"set","type":"nominal","title":null,"scale":{"type":"point","domain":["variants","drivers","signatures","standard"],"padding":0.783,"align":0.574}},"y":{"field":"y","type":"quantitative","title":"FDR-corrected p-value","scale":{"domain":[0,6],"nice":false},"axis":{"values":[1,2,3,4,5],"labelExpr":"'1e-' + datum.value","labelOverlap":false}},"size":{"field":"dens","type":"quantitative","scale":{"domain":[0,1],"range":[0,22]},"legend":null},"color":{"field":"set","type":"nominal","scale":{"domain":["variants","drivers","signatures","standard"],"range":["#c9a3d8","#a3c7ea","#e8b098","#f6db98"]},"legend":null},"order":{"field":"y","type":"quantitative"}}},
{"transform":[{"aggregate":[{"op":"count","as":"n"}],"groupby":["cancer"]}],"mark":{"type":"rule","color":"#555555"},"encoding":{"y":{"datum":1.3,"type":"quantitative","title":"FDR-corrected p-value","axis":{"values":[1,2,3,4,5],"labelExpr":"'1e-' + datum.value","labelOverlap":false}}}}]}},
{"title":{"text":"c"},"transform":[{"filter":{"field":"cancer","equal":"Colorectal"}}],"facet":{"column":{"field":"cancer","type":"nominal","title":null}},"spec":{"width":137,"height":136,"layer":[
{"mark":{"type":"trail","clip":true},"encoding":{"x":{"field":"set","type":"nominal","title":null,"scale":{"type":"point","domain":["variants","drivers","signatures","standard"],"padding":0.783,"align":0.574}},"y":{"field":"y","type":"quantitative","title":"FDR-corrected p-value","scale":{"domain":[0,6],"nice":false},"axis":{"values":[1,2,3,4,5],"labelExpr":"'1e-' + datum.value","labelOverlap":false}},"size":{"field":"dens","type":"quantitative","scale":{"domain":[0,1],"range":[0,22]},"legend":null},"color":{"field":"set","type":"nominal","scale":{"domain":["variants","drivers","signatures","standard"],"range":["#c9a3d8","#a3c7ea","#e8b098","#f6db98"]},"legend":null},"order":{"field":"y","type":"quantitative"}}},
{"transform":[{"aggregate":[{"op":"count","as":"n"}],"groupby":["cancer"]}],"mark":{"type":"rule","color":"#555555"},"encoding":{"y":{"datum":1.3,"type":"quantitative","title":"FDR-corrected p-value","axis":{"values":[1,2,3,4,5],"labelExpr":"'1e-' + datum.value","labelOverlap":false}}}}]}},
{"title":{"text":"d"},"transform":[{"filter":{"field":"cancer","equal":"Head and Neck"}}],"facet":{"column":{"field":"cancer","type":"nominal","title":null}},"spec":{"width":137,"height":136,"layer":[
{"mark":{"type":"trail","clip":true},"encoding":{"x":{"field":"set","type":"nominal","title":null,"scale":{"type":"point","domain":["variants","drivers","signatures","standard"],"padding":0.783,"align":0.574}},"y":{"field":"y","type":"quantitative","title":"FDR-corrected p-value","scale":{"domain":[0,6],"nice":false},"axis":{"values":[1,2,3,4,5],"labelExpr":"'1e-' + datum.value","labelOverlap":false}},"size":{"field":"dens","type":"quantitative","scale":{"domain":[0,1],"range":[0,22]},"legend":null},"color":{"field":"set","type":"nominal","scale":{"domain":["variants","drivers","signatures","standard"],"range":["#c9a3d8","#a3c7ea","#e8b098","#f6db98"]},"legend":null},"order":{"field":"y","type":"quantitative"}}},
{"transform":[{"aggregate":[{"op":"count","as":"n"}],"groupby":["cancer"]}],"mark":{"type":"rule","color":"#555555"},"encoding":{"y":{"datum":1.3,"type":"quantitative","title":"FDR-corrected p-value","axis":{"values":[1,2,3,4,5],"labelExpr":"'1e-' + datum.value","labelOverlap":false}}}}]}},
{"title":{"text":"e"},"transform":[{"filter":{"field":"cancer","equal":"Renal Chromophobe"}}],"facet":{"column":{"field":"cancer","type":"nominal","title":null}},"spec":{"width":137,"height":136,"layer":[
{"mark":{"type":"trail","clip":true},"encoding":{"x":{"field":"set","type":"nominal","title":null,"scale":{"type":"point","domain":["variants","drivers","signatures","standard"],"padding":0.783,"align":0.574}},"y":{"field":"y","type":"quantitative","title":"FDR-corrected p-value","scale":{"domain":[0,6],"nice":false},"axis":{"values":[1,2,3,4,5],"labelExpr":"'1e-' + datum.value","labelOverlap":false}},"size":{"field":"dens","type":"quantitative","scale":{"domain":[0,1],"range":[0,22]},"legend":null},"color":{"field":"set","type":"nominal","scale":{"domain":["variants","drivers","signatures","standard"],"range":["#c9a3d8","#a3c7ea","#e8b098","#f6db98"]},"legend":null},"order":{"field":"y","type":"quantitative"}}},
{"transform":[{"aggregate":[{"op":"count","as":"n"}],"groupby":["cancer"]}],"mark":{"type":"rule","color":"#555555"},"encoding":{"y":{"datum":1.3,"type":"quantitative","title":"FDR-corrected p-value","axis":{"values":[1,2,3,4,5],"labelExpr":"'1e-' + datum.value","labelOverlap":false}}}}]}},
{"title":{"text":"f"},"transform":[{"filter":{"field":"cancer","equal":"Renal Clear Cell"}}],"facet":{"column":{"field":"cancer","type":"nominal","title":null}},"spec":{"width":137,"height":136,"layer":[
{"mark":{"type":"trail","clip":true},"encoding":{"x":{"field":"set","type":"nominal","title":null,"scale":{"type":"point","domain":["variants","drivers","signatures","standard"],"padding":0.783,"align":0.574}},"y":{"field":"y","type":"quantitative","title":"FDR-corrected p-value","scale":{"domain":[0,6],"nice":false},"axis":{"values":[1,2,3,4,5],"labelExpr":"'1e-' + datum.value","labelOverlap":false}},"size":{"field":"dens","type":"quantitative","scale":{"domain":[0,1],"range":[0,22]},"legend":null},"color":{"field":"set","type":"nominal","scale":{"domain":["variants","drivers","signatures","standard"],"range":["#c9a3d8","#a3c7ea","#e8b098","#f6db98"]},"legend":null},"order":{"field":"y","type":"quantitative"}}},
{"transform":[{"aggregate":[{"op":"count","as":"n"}],"groupby":["cancer"]}],"mark":{"type":"rule","color":"#555555"},"encoding":{"y":{"datum":1.3,"type":"quantitative","title":"FDR-corrected p-value","axis":{"values":[1,2,3,4,5],"labelExpr":"'1e-' + datum.value","labelOverlap":false}}}}]}},
{"title":{"text":"g"},"transform":[{"filter":{"field":"cancer","equal":"Renal Papillary"}}],"facet":{"column":{"field":"cancer","type":"nominal","title":null}},"spec":{"width":137,"height":136,"layer":[
{"mark":{"type":"trail","clip":true},"encoding":{"x":{"field":"set","type":"nominal","title":null,"scale":{"type":"point","domain":["variants","drivers","signatures","standard"],"padding":0.783,"align":0.574}},"y":{"field":"y","type":"quantitative","title":"FDR-corrected p-value","scale":{"domain":[0,6],"nice":false},"axis":{"values":[1,2,3,4,5],"labelExpr":"'1e-' + datum.value","labelOverlap":false}},"size":{"field":"dens","type":"quantitative","scale":{"domain":[0,1],"range":[0,22]},"legend":null},"color":{"field":"set","type":"nominal","scale":{"domain":["variants","drivers","signatures","standard"],"range":["#c9a3d8","#a3c7ea","#e8b098","#f6db98"]},"legend":null},"order":{"field":"y","type":"quantitative"}}},
{"transform":[{"aggregate":[{"op":"count","as":"n"}],"groupby":["cancer"]}],"mark":{"type":"rule","color":"#555555"},"encoding":{"y":{"datum":1.3,"type":"quantitative","title":"FDR-corrected p-value","axis":{"values":[1,2,3,4,5],"labelExpr":"'1e-' + datum.value","labelOverlap":false}}}}]}},
{"title":{"text":"h"},"transform":[{"filter":{"field":"cancer","equal":"Hepatocellular"}}],"facet":{"column":{"field":"cancer","type":"nominal","title":null}},"spec":{"width":137,"height":136,"layer":[
{"mark":{"type":"trail","clip":true},"encoding":{"x":{"field":"set","type":"nominal","title":null,"scale":{"type":"point","domain":["variants","drivers","signatures","standard"],"padding":0.783,"align":0.574}},"y":{"field":"y","type":"quantitative","title":"FDR-corrected p-value","scale":{"domain":[0,6],"nice":false},"axis":{"values":[1,2,3,4,5],"labelExpr":"'1e-' + datum.value","labelOverlap":false}},"size":{"field":"dens","type":"quantitative","scale":{"domain":[0,1],"range":[0,22]},"legend":null},"color":{"field":"set","type":"nominal","scale":{"domain":["variants","drivers","signatures","standard"],"range":["#c9a3d8","#a3c7ea","#e8b098","#f6db98"]},"legend":null},"order":{"field":"y","type":"quantitative"}}},
{"transform":[{"aggregate":[{"op":"count","as":"n"}],"groupby":["cancer"]}],"mark":{"type":"rule","color":"#555555"},"encoding":{"y":{"datum":1.3,"type":"quantitative","title":"FDR-corrected p-value","axis":{"values":[1,2,3,4,5],"labelExpr":"'1e-' + datum.value","labelOverlap":false}}}}]}},
{"title":{"text":"i"},"transform":[{"filter":{"field":"cancer","equal":"Lung Adeno"}}],"facet":{"column":{"field":"cancer","type":"nominal","title":null}},"spec":{"width":137,"height":136,"layer":[
{"mark":{"type":"trail","clip":true},"encoding":{"x":{"field":"set","type":"nominal","title":null,"scale":{"type":"point","domain":["variants","drivers","signatures","standard"],"padding":0.783,"align":0.574}},"y":{"field":"y","type":"quantitative","title":"FDR-corrected p-value","scale":{"domain":[0,6],"nice":false},"axis":{"values":[1,2,3,4,5],"labelExpr":"'1e-' + datum.value","labelOverlap":false}},"size":{"field":"dens","type":"quantitative","scale":{"domain":[0,1],"range":[0,22]},"legend":null},"color":{"field":"set","type":"nominal","scale":{"domain":["variants","drivers","signatures","standard"],"range":["#c9a3d8","#a3c7ea","#e8b098","#f6db98"]},"legend":null},"order":{"field":"y","type":"quantitative"}}},
{"transform":[{"aggregate":[{"op":"count","as":"n"}],"groupby":["cancer"]}],"mark":{"type":"rule","color":"#555555"},"encoding":{"y":{"datum":1.3,"type":"quantitative","title":"FDR-corrected p-value","axis":{"values":[1,2,3,4,5],"labelExpr":"'1e-' + datum.value","labelOverlap":false}}}}]}},
{"title":{"text":"j"},"transform":[{"filter":{"field":"cancer","equal":"Lung Squamous"}}],"facet":{"column":{"field":"cancer","type":"nominal","title":null}},"spec":{"width":137,"height":136,"layer":[
{"mark":{"type":"trail","clip":true},"encoding":{"x":{"field":"set","type":"nominal","title":null,"scale":{"type":"point","domain":["variants","drivers","signatures","standard"],"padding":0.783,"align":0.574}},"y":{"field":"y","type":"quantitative","title":"FDR-corrected p-value","scale":{"domain":[0,6],"nice":false},"axis":{"values":[1,2,3,4,5],"labelExpr":"'1e-' + datum.value","labelOverlap":false}},"size":{"field":"dens","type":"quantitative","scale":{"domain":[0,1],"range":[0,22]},"legend":null},"color":{"field":"set","type":"nominal","scale":{"domain":["variants","drivers","signatures","standard"],"range":["#c9a3d8","#a3c7ea","#e8b098","#f6db98"]},"legend":null},"order":{"field":"y","type":"quantitative"}}},
{"transform":[{"aggregate":[{"op":"count","as":"n"}],"groupby":["cancer"]}],"mark":{"type":"rule","color":"#555555"},"encoding":{"y":{"datum":1.3,"type":"quantitative","title":"FDR-corrected p-value","axis":{"values":[1,2,3,4,5],"labelExpr":"'1e-' + datum.value","labelOverlap":false}}}}]}},
{"title":{"text":"k"},"transform":[{"filter":{"field":"cancer","equal":"Pancreatic"}}],"facet":{"column":{"field":"cancer","type":"nominal","title":null}},"spec":{"width":137,"height":136,"layer":[
{"mark":{"type":"trail","clip":true},"encoding":{"x":{"field":"set","type":"nominal","title":null,"scale":{"type":"point","domain":["variants","drivers","signatures","standard"],"padding":0.783,"align":0.574}},"y":{"field":"y","type":"quantitative","title":"FDR-corrected p-value","scale":{"domain":[0,6],"nice":false},"axis":{"values":[1,2,3,4,5],"labelExpr":"'1e-' + datum.value","labelOverlap":false}},"size":{"field":"dens","type":"quantitative","scale":{"domain":[0,1],"range":[0,22]},"legend":null},"color":{"field":"set","type":"nominal","scale":{"domain":["variants","drivers","signatures","standard"],"range":["#c9a3d8","#a3c7ea","#e8b098","#f6db98"]},"legend":null},"order":{"field":"y","type":"quantitative"}}},
{"transform":[{"aggregate":[{"op":"count","as":"n"}],"groupby":["cancer"]}],"mark":{"type":"rule","color":"#555555"},"encoding":{"y":{"datum":1.3,"type":"quantitative","title":"FDR-corrected p-value","axis":{"values":[1,2,3,4,5],"labelExpr":"'1e-' + datum.value","labelOverlap":false}}}}]}},
{"title":{"text":"l"},"transform":[{"filter":{"field":"cancer","equal":"Prostate"}}],"facet":{"column":{"field":"cancer","type":"nominal","title":null}},"spec":{"width":137,"height":136,"layer":[
{"mark":{"type":"trail","clip":true},"encoding":{"x":{"field":"set","type":"nominal","title":null,"scale":{"type":"point","domain":["variants","drivers","signatures","standard"],"padding":0.783,"align":0.574}},"y":{"field":"y","type":"quantitative","title":"FDR-corrected p-value","scale":{"domain":[0,6],"nice":false},"axis":{"values":[1,2,3,4,5],"labelExpr":"'1e-' + datum.value","labelOverlap":false}},"size":{"field":"dens","type":"quantitative","scale":{"domain":[0,1],"range":[0,22]},"legend":null},"color":{"field":"set","type":"nominal","scale":{"domain":["variants","drivers","signatures","standard"],"range":["#c9a3d8","#a3c7ea","#e8b098","#f6db98"]},"legend":null},"order":{"field":"y","type":"quantitative"}}},
{"transform":[{"aggregate":[{"op":"count","as":"n"}],"groupby":["cancer"]}],"mark":{"type":"rule","color":"#555555"},"encoding":{"y":{"datum":1.3,"type":"quantitative","title":"FDR-corrected p-value","axis":{"values":[1,2,3,4,5],"labelExpr":"'1e-' + datum.value","labelOverlap":false}}}}]}},
{"title":{"text":"m"},"transform":[{"filter":{"field":"cancer","equal":"Melanoma (primary)"}}],"facet":{"column":{"field":"cancer","type":"nominal","title":null}},"spec":{"width":137,"height":136,"layer":[
{"mark":{"type":"trail","clip":true},"encoding":{"x":{"field":"set","type":"nominal","title":null,"scale":{"type":"point","domain":["variants","drivers","signatures","standard"],"padding":0.783,"align":0.574}},"y":{"field":"y","type":"quantitative","title":"FDR-corrected p-value","scale":{"domain":[0,6],"nice":false},"axis":{"values":[1,2,3,4,5],"labelExpr":"'1e-' + datum.value","labelOverlap":false}},"size":{"field":"dens","type":"quantitative","scale":{"domain":[0,1],"range":[0,22]},"legend":null},"color":{"field":"set","type":"nominal","scale":{"domain":["variants","drivers","signatures","standard"],"range":["#c9a3d8","#a3c7ea","#e8b098","#f6db98"]},"legend":null},"order":{"field":"y","type":"quantitative"}}},
{"transform":[{"aggregate":[{"op":"count","as":"n"}],"groupby":["cancer"]}],"mark":{"type":"rule","color":"#555555"},"encoding":{"y":{"datum":1.3,"type":"quantitative","title":"FDR-corrected p-value","axis":{"values":[1,2,3,4,5],"labelExpr":"'1e-' + datum.value","labelOverlap":false}}}}]}},
{"title":{"text":"n"},"transform":[{"filter":{"field":"cancer","equal":"Melanoma (metastases)"}}],"facet":{"column":{"field":"cancer","type":"nominal","title":null}},"spec":{"width":137,"height":136,"layer":[
{"mark":{"type":"trail","clip":true},"encoding":{"x":{"field":"set","type":"nominal","title":null,"scale":{"type":"point","domain":["variants","drivers","signatures","standard"],"padding":0.783,"align":0.574}},"y":{"field":"y","type":"quantitative","title":"FDR-corrected p-value","scale":{"domain":[0,6],"nice":false},"axis":{"values":[1,2,3,4,5],"labelExpr":"'1e-' + datum.value","labelOverlap":false}},"size":{"field":"dens","type":"quantitative","scale":{"domain":[0,1],"range":[0,22]},"legend":null},"color":{"field":"set","type":"nominal","scale":{"domain":["variants","drivers","signatures","standard"],"range":["#c9a3d8","#a3c7ea","#e8b098","#f6db98"]},"legend":null},"order":{"field":"y","type":"quantitative"}}},
{"transform":[{"aggregate":[{"op":"count","as":"n"}],"groupby":["cancer"]}],"mark":{"type":"rule","color":"#555555"},"encoding":{"y":{"datum":1.3,"type":"quantitative","title":"FDR-corrected p-value","axis":{"values":[1,2,3,4,5],"labelExpr":"'1e-' + datum.value","labelOverlap":false}}}}]}},
{"title":{"text":"o"},"transform":[{"filter":{"field":"cancer","equal":"Gastric"}}],"facet":{"column":{"field":"cancer","type":"nominal","title":null}},"spec":{"width":137,"height":136,"layer":[
{"mark":{"type":"trail","clip":true},"encoding":{"x":{"field":"set","type":"nominal","title":null,"scale":{"type":"point","domain":["variants","drivers","signatures","standard"],"padding":0.783,"align":0.574}},"y":{"field":"y","type":"quantitative","title":"FDR-corrected p-value","scale":{"domain":[0,6],"nice":false},"axis":{"values":[1,2,3,4,5],"labelExpr":"'1e-' + datum.value","labelOverlap":false}},"size":{"field":"dens","type":"quantitative","scale":{"domain":[0,1],"range":[0,22]},"legend":null},"color":{"field":"set","type":"nominal","scale":{"domain":["variants","drivers","signatures","standard"],"range":["#c9a3d8","#a3c7ea","#e8b098","#f6db98"]},"legend":null},"order":{"field":"y","type":"quantitative"}}},
{"transform":[{"aggregate":[{"op":"count","as":"n"}],"groupby":["cancer"]}],"mark":{"type":"rule","color":"#555555"},"encoding":{"y":{"datum":1.3,"type":"quantitative","title":"FDR-corrected p-value","axis":{"values":[1,2,3,4,5],"labelExpr":"'1e-' + datum.value","labelOverlap":false}}}}]}},
{"title":{"text":"p","offset":2,"dx":3},"data":{"values":[{"set":"variants"},{"set":"drivers"},{"set":"signatures"},{"set":"standard"}]},"width":137,"height":136,
"encoding":{"y":{"field":"set","type":"nominal","axis":null,"scale":{"domain":["variants","drivers","signatures","standard"],"paddingInner":0.12,"paddingOuter":0.447,"align":0.686}},"x":{"datum":"key","type":"nominal","axis":null,"scale":{"paddingInner":0,"paddingOuter":0.39,"align":0.433}}},
"layer":[
{"mark":{"type":"bar"},"encoding":{"color":{"field":"set","type":"nominal","scale":{"domain":["variants","drivers","signatures","standard"],"range":["#c9a3d8","#a3c7ea","#e8b098","#f6db98"]},"legend":null}}},
{"mark":{"type":"text","fontSize":12.5,"color":"#222222"},"encoding":{"text":{"field":"set","type":"nominal"}}}
]}
],
"config": {
"font": "Liberation Sans",
"view": {"stroke": null},
"header": {"labelFontSize": 12, "labelFontWeight": "bold", "labelColor": "#000000", "labelPadding": 5},
"title": {"anchor": "start", "frame": "bounds", "fontSize": 13, "fontWeight": "bold", "color": "#000000", "offset": -16},
"axis": {"domainColor": "#c4c4c4", "grid": false, "ticks": false, "labelFontSize": 11, "labelColor": "#333333", "titleFontSize": 12, "titleFontWeight": "normal", "titleColor": "#222222", "labelPadding": 4, "labelOverlap": false},
"axisX": {"labels": false}
}
}
